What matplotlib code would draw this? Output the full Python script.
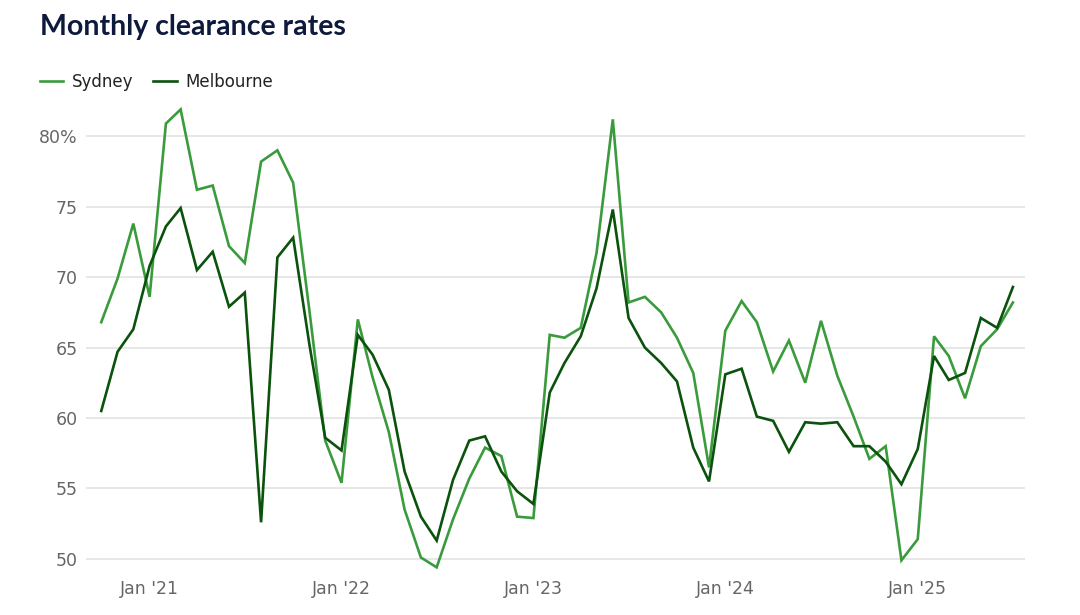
import numpy as np
import pandas as pd
import matplotlib
matplotlib.use("Agg")
import matplotlib.pyplot as plt
import matplotlib.dates as mdates
from matplotlib.ticker import FuncFormatter

# monthly auction clearance rates, Oct 2020 - Jul 2025 (%)
sydney = [66.8, 69.9, 73.8, 68.6, 80.9, 81.9, 76.2, 76.5, 72.2, 71.0, 78.2, 79.0,
          76.7, 67.6, 58.4, 55.4, 67.0, 62.9, 59.0, 53.5, 50.1, 49.4, 52.8, 55.7,
          57.9, 57.3, 53.0, 52.9, 65.9, 65.7, 66.4, 71.7, 81.2, 68.2, 68.6, 67.5,
          65.7, 63.2, 56.5, 66.2, 68.3, 66.8, 63.3, 65.5, 62.5, 66.9, 63.0, 60.1,
          57.1, 58.0, 49.9, 51.4, 65.8, 64.4, 61.4, 65.1, 66.3, 68.2]
melbourne = [60.5, 64.7, 66.3, 70.8, 73.6, 74.9, 70.5, 71.8, 67.9, 68.9, 52.6, 71.4,
             72.8, 65.2, 58.6, 57.7, 65.9, 64.5, 62.0, 56.2, 53.0, 51.3, 55.6, 58.4,
             58.7, 56.2, 54.8, 53.9, 61.8, 63.9, 65.8, 69.2, 74.8, 67.1, 65.0, 63.9,
             62.6, 57.9, 55.5, 63.1, 63.5, 60.1, 59.8, 57.6, 59.7, 59.6, 59.7, 58.0,
             58.0, 56.9, 55.3, 57.8, 64.4, 62.7, 63.2, 67.1, 66.4, 69.3]
months = pd.date_range("2020-10-01", periods=len(sydney), freq="MS")
yticks = [50, 55, 60, 65, 70, 75, 80]

syd_color = "#3a9b3c"
mel_color = "#0b520d"

fig = plt.figure(figsize=(10.8, 6.15), dpi=100)
ax = fig.add_axes([86 / 1080, 1 - 573 / 615, (1025 - 86) / 1080, (573 - 101) / 615])

ax.plot(months, sydney, color=syd_color, lw=1.9, label="Sydney", solid_joinstyle="miter")
ax.plot(months, melbourne, color=mel_color, lw=1.9, label="Melbourne", solid_joinstyle="miter")

ax.set_ylim(49, 82.5)
ax.set_xlim(months[0] - pd.Timedelta(days=29), months[-1] + pd.Timedelta(days=23))
ax.set_yticks(yticks)
ax.yaxis.set_major_formatter(FuncFormatter(lambda v, p: f"{v:.0f}%" if v == 80 else f"{v:.0f}"))
ax.xaxis.set_major_locator(mdates.YearLocator(month=1))
ax.xaxis.set_major_formatter(mdates.DateFormatter("Jan '%y"))

ax.grid(axis="y", color="#e3e3e3", lw=1.2)
ax.set_axisbelow(True)
for s in ax.spines.values():
    s.set_visible(False)
ax.tick_params(length=0, labelsize=12.5, labelcolor="#666666")
ax.tick_params(axis="x", pad=5)
ax.tick_params(axis="y", pad=6)

ax.legend(loc="lower left", bbox_to_anchor=(-0.056, 1.007), ncol=2, frameon=False,
          fontsize=12, handlelength=1.4, handletextpad=0.5, columnspacing=1.2,
          labelcolor="#222222", borderaxespad=0)

fig.text(40 / 1080, 1 - 27 / 615, "Monthly clearance rates", fontsize=20.5,
         fontweight="bold", color="#0e1a3b", va="center", family="Lato")

fig.savefig("out.png", dpi=100)
